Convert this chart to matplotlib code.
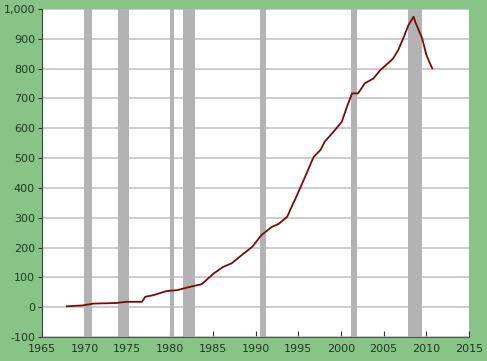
import matplotlib.pyplot as plt
from matplotlib.ticker import FuncFormatter

# =========================================================
# DATA
# =========================================================
years = [1967.9, 1969.8, 1971.0, 1973.7, 1974.9, 1976.7, 1977.1, 1978.0,
         1979.6, 1980.0, 1980.8, 1982.3, 1983.7, 1985.1, 1986.2, 1987.2,
         1988.4, 1989.6, 1990.7, 1991.9, 1992.7, 1993.7, 1994.4, 1994.6,
         1995.2, 1995.8, 1996.8, 1997.6, 1998.1, 1999.3, 2000.1, 2000.7,
         2001.3, 2002.0, 2002.8, 2003.8, 2004.6, 2005.7, 2006.1, 2006.7,
         2007.3, 2007.9, 2008.5, 2008.7, 2009.5, 2010.0, 2010.6, 2010.7]
values = [3, 6, 12, 14, 18, 18, 35, 40,
          54, 55, 57, 68, 77, 113, 135, 147,
          175, 202, 242, 269, 279, 303, 348, 359,
          398, 437, 504, 527, 555, 594, 622, 672,
          717, 717, 751, 767, 795, 823, 834, 862,
          902, 946, 974, 957, 902, 846, 806, 801]

recession_start = [1969.9, 1973.9, 1980.0, 1981.5, 1990.5, 2001.2, 2007.9]
recession_end = [1970.9, 1975.2, 1980.5, 1982.9, 1991.2, 2001.9, 2009.5]

x_ticks = [1965, 1970, 1975, 1980, 1985, 1990, 1995, 2000, 2005, 2010, 2015]
y_ticks = [-100, 0, 100, 200, 300, 400, 500, 600, 700, 800, 900, 1000]

# =========================================================
# PLOT
# =========================================================
bg_green = "#88c487"
text_green = "#1e3a1e"

fig = plt.figure(figsize=(4.87, 3.61), dpi=100, facecolor=bg_green)
ax = fig.add_axes([0.0862, 0.0665, 0.877, 0.9085])
ax.set_facecolor("white")

for s, e in zip(recession_start, recession_end):
    ax.axvspan(s, e, color="#b3b3b3", lw=0, zorder=1)

ax.yaxis.grid(True, color="#c4c4c4", lw=1.2, zorder=0)
ax.set_axisbelow(True)

ax.plot(years, values, color="#7a0a0a", lw=1.3, zorder=3)

ax.set_xlim(1965, 2015)
ax.set_ylim(-100, 1000)
ax.set_xticks(x_ticks)
ax.set_yticks(y_ticks)
ax.yaxis.set_major_formatter(FuncFormatter(lambda v, p: f"{int(v):,}"))

for side in ["top", "right"]:
    ax.spines[side].set_visible(False)
ax.spines["left"].set_color("#2f4f2f")
ax.spines["bottom"].set_color("#4a5a4a")

ax.tick_params(axis="x", direction="in", length=4, color="#333333",
               labelsize=8, labelcolor=text_green, pad=5)
ax.tick_params(axis="y", direction="out", length=3, color="#333333",
               labelsize=8, labelcolor=text_green, pad=2)

fig.savefig("out.png", dpi=100, facecolor=bg_green)
